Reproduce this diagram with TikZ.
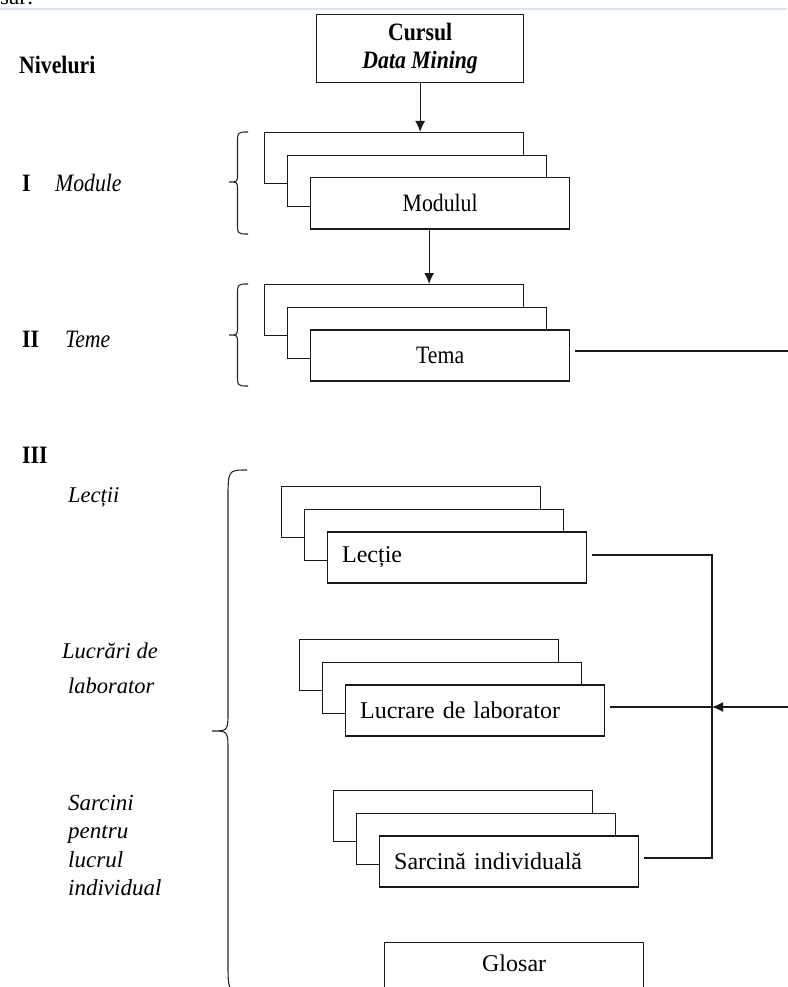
\documentclass[tikz,border=0pt]{standalone}
\usepackage{fontspec}
\setmainfont{Liberation Serif}
\newfontfamily\narrowserif[FakeStretch=0.87]{Liberation Serif}
\usetikzlibrary{arrows.meta}

% curly brace opening to the right: end x, stem x, tip x, top y, tip y, bottom y, end radius, tip radius
\newcommand{\curlybrace}[8]{%
  \draw[bracepen] (#1,#4) .. controls (#2,#4) .. (#2,#4+#7) -- (#2,#5-#8)
    .. controls (#2,#5) .. (#3,#5) .. controls (#2,#5) .. (#2,#5+#8)
    -- (#2,#6-#7) .. controls (#2,#6) .. (#1,#6);
}

% three stacked cards; the front one carries the text
\newcommand{\cardstack}[5]{%
  \node[card] (#1-back) at (#2,#3) {};
  \node[card, xshift=23pt, yshift=-22.6pt] (#1-mid) at (#2,#3) {};
  \node[card, xshift=46pt, yshift=-45.2pt, #5] (#1) at (#2,#3) {#4};
}

\begin{document}
\begin{tikzpicture}[x=1pt, y=-1pt,
  card/.style={draw=black!90, line width=1.3pt, fill=white, minimum width=259pt,
    minimum height=51pt, inner sep=0pt, anchor=north west,
    font=\fontsize{24}{28}\selectfont},
  narrowtext/.style={font=\fontsize{25}{28}\selectfont\narrowserif},
  lefttext/.style={text width=230pt, align=left},
  titlebox/.style={draw=black!90, line width=1.3pt, fill=white, minimum width=207pt,
    minimum height=68pt, inner sep=0pt, anchor=north west, align=center,
    font=\fontsize{25}{28}\selectfont\narrowserif},
  lbl/.style={anchor=base west, inner sep=0pt, font=\fontsize{22.5}{26}\selectfont},
  lvl/.style={lbl, font=\fontsize{25}{28}\selectfont\narrowserif\bfseries},
  sect/.style={lbl, font=\fontsize{25}{28}\selectfont\narrowserif\itshape},
  subsect/.style={lbl, font=\fontsize{22.5}{26}\selectfont\itshape},
  task/.style={lbl, font=\fontsize{23}{28}\selectfont\itshape},
  wire/.style={draw=black!90, line width=1.3pt},
  arrowwire/.style={wire, -{Latex[length=11pt, width=10pt]}},
  bracepen/.style={draw=black!85, line width=1.1pt},
  rule/.style={draw={rgb,255:red,214;green,228;blue,245}, line width=2pt}
]
\useasboundingbox (0,0) rectangle (787,987);
\fill[white] (0,0) rectangle (787,987);

% tail of the preceding text line and the page rule
\node[lbl, font=\fontsize{23}{27}\selectfont] (prev) at (0,5) {sar:};
\draw[rule] (0,9.5) -- (787,9.5);

% level headings
\node[lvl] (niv) at (19,74) {Niveluri};
\node[lvl] (n1) at (22,191.5) {I};
\node[sect] (s1) at (55,191.5) {Module};
\node[lvl] (n2) at (22,347) {II};
\node[sect] (s2) at (65,347) {Teme};
\node[lvl] (n3) at (22,463) {III};
\node[subsect] (s3) at (68,502) {Lecții};
\node[subsect] (s4) at (62,658) {Lucrări de};
\node[subsect] (s5) at (68,693) {laborator};
\node[task] (t1) at (68,810) {Sarcini};
\node[task] (t2) at (68,838.5) {pentru};
\node[task] (t3) at (68,867) {lucrul};
\node[task] (t4) at (68,895.5) {individual};

% braces grouping each level
\curlybrace{248}{237.5}{229}{132}{182}{234}{12}{8}
\curlybrace{248}{237.5}{229}{284}{335}{386}{12}{8}
\curlybrace{247}{228}{212}{470}{731}{992}{30}{20}

% course box
\node[titlebox] (cur) at (316,14) {\textbf{Cursul}\\\textbf{\textit{Data Mining}}};

% card stacks
\cardstack{mod}{264}{132}{Modulul}{narrowtext}
\cardstack{tema}{264}{284}{Tema}{narrowtext}
\cardstack{lec}{281}{486}{Lecție}{lefttext}
\cardstack{lab}{299}{639}{Lucrare de laborator}{lefttext}
\cardstack{sar}{333}{790}{Sarcină individuală}{lefttext}
\node[card, text depth=9pt] (glo) at (384,942) {Glosar};

% connectors
\draw[arrowwire] (cur.south) -- (cur.south |- mod-back.north);
\draw[arrowwire] ([xshift=-11pt]mod.south) -- ([xshift=-11pt]mod.south |- tema-back.north);

\coordinate (temaOut) at (790,351);
\draw[wire, shorten <=5pt] (tema.east |- temaOut) -- (temaOut);

\coordinate (busA) at (712,555);
\coordinate (busB) at (712,707);
\coordinate (busC) at (712,858);
\coordinate (labIn) at (790,707);
\draw[wire, shorten <=5pt, shorten >=5pt] (lec.east |- busA) -- (busA) -- (busC) -- (sar.east |- busC);
\draw[wire, shorten <=5pt] (lab.east |- busB) -- (busB);
\draw[arrowwire] (labIn) -- (busB);
\end{tikzpicture}
\end{document}
